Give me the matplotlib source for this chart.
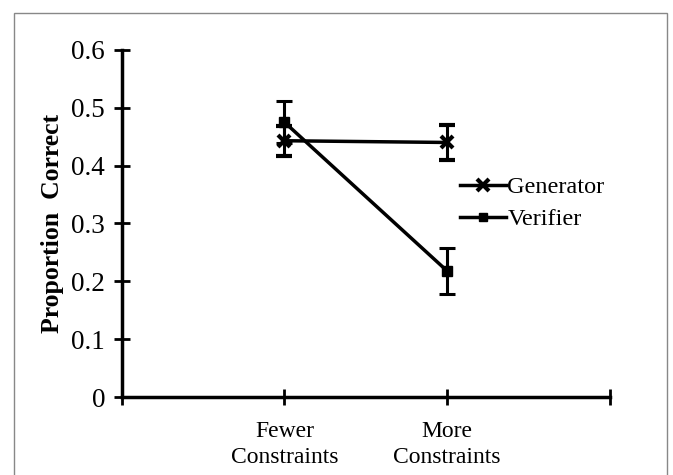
import matplotlib.pyplot as plt
from matplotlib.patches import Rectangle
from matplotlib.lines import Line2D

categories = ["Fewer\nConstraints", "More\nConstraints"]
x_pos = [1, 2]
generator = [0.443, 0.440]
generator_err = [0.026, 0.031]
verifier = [0.475, 0.218]
verifier_err = [0.036, 0.039]

plt.rcParams['font.family'] = ['Liberation Serif', 'DejaVu Serif']

fig = plt.figure(figsize=(6.73, 4.75), dpi=100)
ax = fig.add_axes([0.181, 0.164, 0.725, 0.731])

# thin grey frame round the picture
fig.patches.append(Rectangle((14 / 673, -0.02), (667 - 14) / 673, 1 - 13 / 475 + 0.02,
                             transform=fig.transFigure, fill=False, ec='#888888', lw=1))

ax.errorbar(x_pos, generator, yerr=generator_err, color='black', lw=2.5,
            marker='x', ms=9, mew=3, capsize=6, capthick=2.2, elinewidth=2.2)
ax.errorbar(x_pos, verifier, yerr=verifier_err, color='black', lw=2.5,
            marker='s', ms=7, capsize=6, capthick=2.2, elinewidth=2.2)

ax.set_xlim(0, 3)
ax.set_ylim(0, 0.6)
ax.set_xticks([0, 1, 2, 3])
ax.set_xticklabels([''] + categories + [''], fontsize=17, linespacing=1.3)
ax.set_yticks([0, 0.1, 0.2, 0.3, 0.4, 0.5, 0.6])
ax.set_yticklabels(['0', '0.1', '0.2', '0.3', '0.4', '0.5', '0.6'], fontsize=19.5)
ax.tick_params(direction='inout', length=12, width=2, pad=6)
ax.tick_params(axis='x', pad=11)

for s in ['top', 'right']:
    ax.spines[s].set_visible(False)
for s in ['left', 'bottom']:
    ax.spines[s].set_linewidth(2.5)

ax.set_ylabel('Proportion  Correct', fontsize=18.5, fontweight='bold', labelpad=5)

handles = [Line2D([], [], color='black', lw=2.5, marker='x', ms=8, mew=3),
           Line2D([], [], color='black', lw=2.5, marker='s', ms=6)]
ax.legend(handles, ['Generator', 'Verifier'], loc='upper left',
          bbox_to_anchor=(460 / 673, 1 - 176 / 475), bbox_transform=fig.transFigure,
          frameon=False, fontsize=17.5, handlelength=1.9, handletextpad=0.05,
          labelspacing=0.42, borderaxespad=0, borderpad=0)

fig.savefig('out.png', dpi=100)
